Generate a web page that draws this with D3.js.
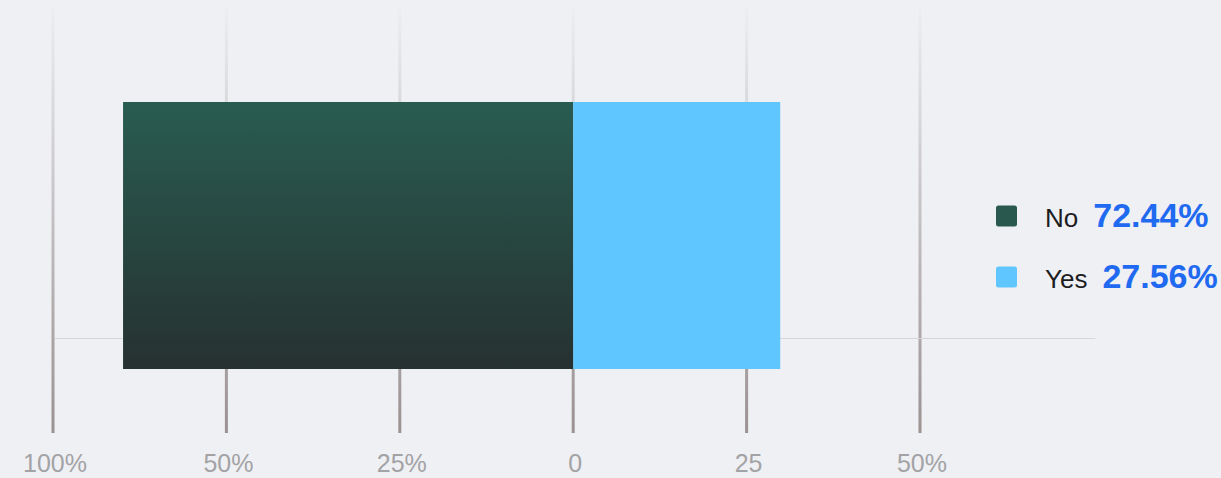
<!DOCTYPE html>
<html><head><meta charset="utf-8">
<script src="https://cdn.jsdelivr.net/npm/d3@7"></script>
<style>html,body{margin:0;padding:0;background:#eff0f4;}svg{display:block;}</style>
</head><body>
<svg id="c" width="1221" height="478"></svg>
<script>
const categories = ["No", "Yes"];
const shares = [72.44, 27.56];           // legend percentages
const barStart = [-64.9, 0];             // bar extents read in axis units
const barEnd = [0, 29.85];
const tickValues = [-75, -50, -25, 0, 25, 50];
const tickLabels = ["100%", "50%", "25%", "0", "25", "50%"];
const colors = ["#29584e", "#60c6ff"];

const svg = d3.select("#c");
const x = d3.scaleLinear().domain([-75, 50]).range([53, 920]);
const y = d3.scaleBand().domain(["row"]).range([102, 369]).padding(0);

const defs = svg.append("defs");
const gg = defs.append("linearGradient").attr("id","gridGrad").attr("gradientUnits","userSpaceOnUse")
  .attr("x1",0).attr("x2",0).attr("y1",8).attr("y2",433);
gg.append("stop").attr("offset","0%").attr("stop-color","#eceef2");
gg.append("stop").attr("offset","100%").attr("stop-color","#9a9191");
const bg = defs.append("linearGradient").attr("id","noGrad").attr("x1",0).attr("x2",0).attr("y1",0).attr("y2",1);
bg.append("stop").attr("offset","0%").attr("stop-color","#295c51");
bg.append("stop").attr("offset","100%").attr("stop-color","#263130");

// vertical grid lines
svg.append("g").selectAll("rect").data(tickValues).join("rect")
  .attr("x", d => x(d) - 1.5).attr("width", 3)
  .attr("y", 8).attr("height", 425)
  .attr("fill", "url(#gridGrad)");

// horizontal baseline
svg.append("line").attr("x1", x(-75) + 2).attr("x2", x(75) + 2)
  .attr("y1", 338.5).attr("y2", 338.5).attr("stroke", "#d6d6db").attr("stroke-width", 1);

// bars
svg.append("g").selectAll("rect").data(categories).join("rect")
  .attr("x", (d,i) => x(barStart[i]))
  .attr("width", (d,i) => x(barEnd[i]) - x(barStart[i]))
  .attr("y", y("row")).attr("height", y.bandwidth())
  .attr("fill", (d,i) => i === 0 ? "url(#noGrad)" : colors[i]);

// tick labels
svg.append("g").selectAll("text").data(tickValues).join("text")
  .attr("x", d => x(d) + 2).attr("y", 472)
  .attr("text-anchor", "middle")
  .attr("font-family", "'Helvetica Neue', Arial, 'Liberation Sans', sans-serif")
  .attr("font-size", 25).attr("fill", "#a3a3a5")
  .text((d,i) => tickLabels[i]);

// legend
const lg = svg.append("g");
const rowY = [216, 277];
categories.forEach((c, i) => {
  lg.append("rect").attr("x", 996).attr("y", rowY[i] - 10.5).attr("width", 21).attr("height", 21)
    .attr("rx", 2.5).attr("fill", colors[i]);
  const t = lg.append("text").attr("x", 1045).attr("y", rowY[i] + 11)
    .attr("font-family", "'Helvetica Neue', Arial, 'Liberation Sans', sans-serif");
  t.append("tspan").attr("font-size", 26).attr("fill", "#1d1d1f").text(c);
  t.append("tspan").attr("dx", 15).attr("font-size", 34).attr("font-weight", "bold")
    .attr("fill", "#1f6af0").text(shares[i].toFixed(2) + "%");
});
</script>
</body></html>
